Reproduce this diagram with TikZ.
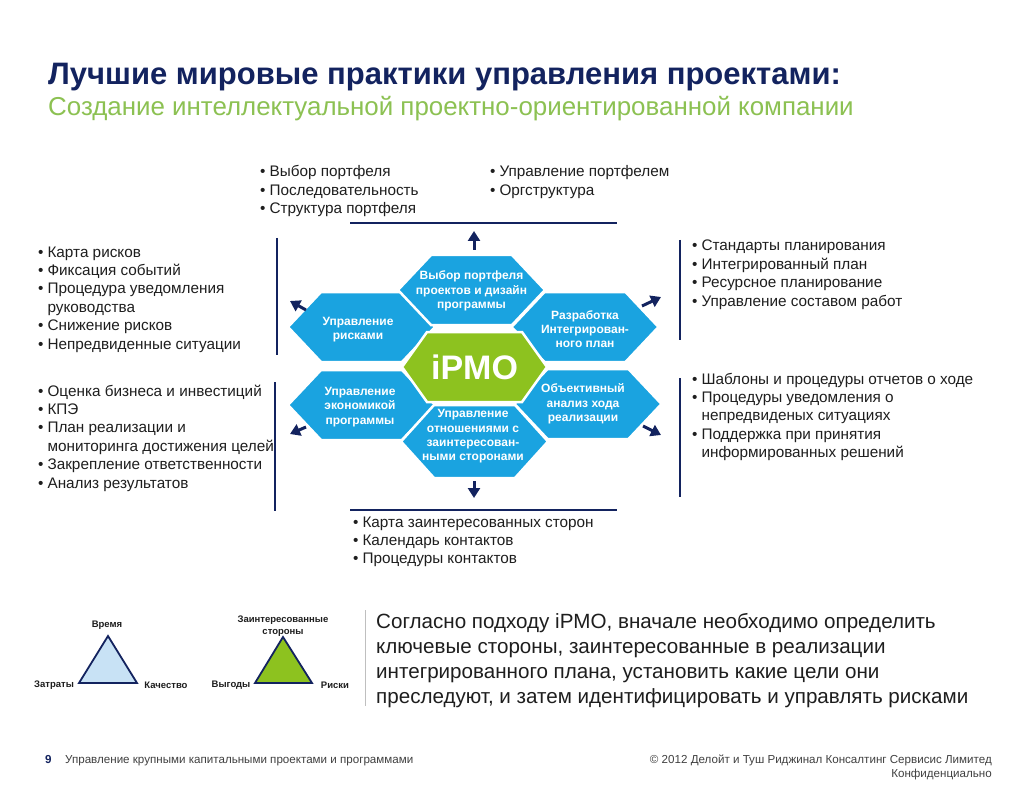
\documentclass[tikz,border=0pt]{standalone}
\usepackage{fontspec}
\setmainfont{Liberation Sans}
\usepackage{xcolor}
\usetikzlibrary{arrows.meta}

\definecolor{ipmonavy}{HTML}{13235F}
\definecolor{ipmolime}{HTML}{8DC21F}
\definecolor{hexblue}{HTML}{1AA3E0}
\definecolor{subgreen}{HTML}{8CC152}
\definecolor{bodytext}{HTML}{1E1E1E}
\definecolor{skyfill}{HTML}{C8E2F5}
\newcommand\bul{\textbullet\hspace{4pt}}
\newcommand\hng{\hphantom{\textbullet\hspace{4pt}}}

\begin{document}
\begin{tikzpicture}[x=1pt, y=-1pt,
  hex-text/.style={text=white, font=\bfseries\fontsize{12}{14.3}\selectfont,
    align=center, inner sep=0pt},
  list-text/.style={text=bodytext, font=\fontsize{15.3}{18.4}\selectfont,
    align=left, anchor=base west, inner sep=0pt},
  out-arrow/.style={ipmonavy, line width=3pt, -{Triangle[width=12pt,length=10pt]}},
  rule-line/.style={ipmonavy, line width=1.5pt},
  tri-label/.style={text=bodytext, font=\bfseries\fontsize{9.5}{12}\selectfont,
    inner sep=0pt, align=center}]
  \fill[white] (0,0) rectangle (1024,791);
  \useasboundingbox (0,0) rectangle (1024,791);

  % heading
  \node[anchor=base west, inner sep=0pt, text=ipmonavy,
    font=\bfseries\fontsize{31}{36}\selectfont] (title) at (48,85)
    {Лучшие мировые практики управления проектами:};
  \node[anchor=base west, inner sep=0pt, text=subgreen,
    font=\fontsize{25.9}{30}\selectfont] (subtitle) at (48,116)
    {Создание интеллектуальной проектно-ориентированной компании};

  % hexagons round the centre
  \foreach \cx/\cy/\hh/\nx/\ny/\hname/\htext in {
      361.5/327/35/358/329.5/risks/{Управление\\рисками},
      585/327/35/585/329/plan/{Разработка\\Интегрирован-\\ного план},
      361.5/405/35/360/407/economy/{Управление\\экономикой\\программы},
      588/404/35/583/404/review/{Объективный\\анализ хода\\реализации},
      471.5/290/35/471.5/291/portfolio/{Выбор портфеля\\проектов и дизайн\\программы},
      474.5/441.5/36.5/473/436.5/stakeholders/{Управление\\отношениями с\\заинтересован-\\ными сторонами}}{
    \filldraw[hexblue, draw=white, line width=2.5pt]
      (\cx-73.5,\cy) -- (\cx-40.5,\cy-\hh) -- (\cx+40.5,\cy-\hh)
      -- (\cx+73.5,\cy) -- (\cx+40.5,\cy+\hh) -- (\cx-40.5,\cy+\hh) -- cycle;
    \node[hex-text] (\hname) at (\nx,\ny) {\htext};
  }
  \filldraw[ipmolime, draw=white, line width=2.5pt]
    (402,367) -- (427,332) -- (522,332) -- (547,367) -- (522,402) -- (427,402) -- cycle;
  \node[text=white, font=\bfseries\fontsize{34}{40}\selectfont, inner sep=0pt]
    (ipmo) at (474.5,367) {iPMO};

  % arrows out of the hexagons
  \foreach \ax/\ay/\bx/\by [count=\i] in {474/250/474/231, 474/481/474/498,
      306/310/290/301, 642/306/661/297, 306/427/290/434, 643/426/661/435}{
    \coordinate (tail\i) at (\ax,\ay);
    \coordinate (tip\i) at (\bx,\by);
    \draw[out-arrow] (tail\i) -- (tip\i);
  }

  % rules beside the lists
  \draw[rule-line] (350,223) -- (617,223);
  \draw[rule-line] (350,510) -- (617,510);
  \draw[rule-line] (277,238) -- (277,355);
  \draw[rule-line] (275,382) -- (275,511);
  \draw[rule-line] (680,240) -- (680,340);
  \draw[rule-line] (680,378) -- (680,497);

  % lists (placed at the baseline of their last line)
  \node[list-text] (portfolio-list) at (260,213.8)
    {\bul Выбор портфеля\\ \bul Последовательность\\ \bul Структура портфеля};
  \node[list-text] (office-list) at (490,195.4)
    {\bul Управление портфелем\\ \bul Оргструктура};
  \node[list-text] (risk-list) at (38,349)
    {\bul Карта рисков\\ \bul Фиксация событий\\ \bul Процедура уведомления\\
     \hng руководства\\ \bul Снижение рисков\\ \bul Непредвиденные ситуации};
  \node[list-text] (economy-list) at (38,488)
    {\bul Оценка бизнеса и инвестиций\\ \bul КПЭ\\ \bul План реализации и\\
     \hng мониторинга достижения целей\\ \bul Закрепление ответственности\\
     \bul Анализ результатов};
  \node[list-text] (plan-list) at (692,306.2)
    {\bul Стандарты планирования\\ \bul Интегрированный план\\
     \bul Ресурсное планирование\\ \bul Управление составом работ};
  \node[list-text] (review-list) at (692,457.6)
    {\bul Шаблоны и процедуры отчетов о ходе\\ \bul Процедуры уведомления о\\
     \hng непредвиденых ситуациях\\ \bul Поддержка при принятия\\
     \hng информированных решений};
  \node[list-text] (stake-list) at (353,563.8)
    {\bul Карта заинтересованных сторон\\ \bul Календарь контактов\\
     \bul Процедуры контактов};

  % triangles
  \filldraw[fill=skyfill, draw=ipmonavy, line width=1.8pt]
    (108,636) -- (79,683) -- (137,683) -- cycle;
  \filldraw[fill=ipmolime, draw=ipmonavy, line width=1.8pt]
    (283,637) -- (255,683) -- (312,683) -- cycle;
  \node[tri-label] (time) at (107,625) {Время};
  \node[tri-label] (cost) at (54,685) {Затраты};
  \node[tri-label] (quality) at (166,685) {Качество};
  \node[tri-label] (parties) at (283,626) {Заинтересованные\\стороны};
  \node[tri-label] (benefit) at (231,685) {Выгоды};
  \node[tri-label] (riskpt) at (335,685) {Риски};

  % note
  \draw[gray!50, line width=1pt] (365,610) -- (365,706);
  \node[anchor=base west, inner sep=0pt, text=bodytext, align=left,
    font=\fontsize{20.6}{25.3}\selectfont] (note) at (376,703.9)
    {Согласно подходу iPMO, вначале необходимо определить\\
     ключевые стороны, заинтересованные в реализации\\
     интегрированного плана, установить какие цели они\\
     преследуют, и затем идентифицировать и управлять рисками};

  % footer
  \node[anchor=base west, inner sep=0pt, text=ipmonavy,
    font=\bfseries\fontsize{11.6}{14}\selectfont] (page) at (45,763) {9};
  \node[anchor=base west, inner sep=0pt, text=bodytext!85,
    font=\fontsize{11.6}{14}\selectfont] (series) at (65,763)
    {Управление крупными капитальными проектами и программами};
  \node[anchor=base east, inner sep=0pt, text=bodytext!85, align=right,
    font=\fontsize{11.6}{14}\selectfont] (legal) at (992,777)
    {© 2012 Делойт и Туш Риджинал Консалтинг Сервисис Лимитед\\Конфиденциально};
\end{tikzpicture}
\end{document}
